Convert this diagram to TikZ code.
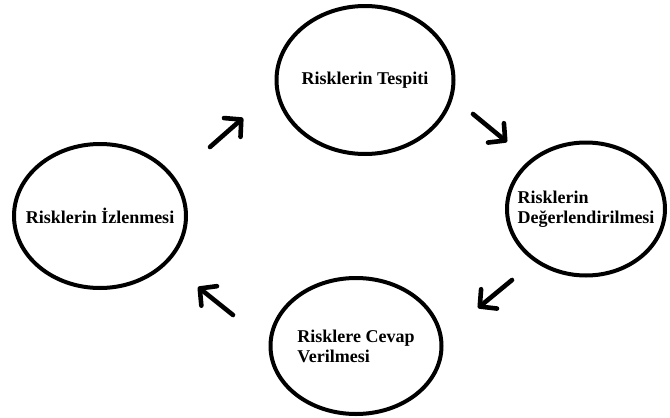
\documentclass[tikz,border=0pt]{standalone}
\usepackage{fontspec}
\setmainfont{Liberation Serif}
\usetikzlibrary{shapes.geometric,arrows.meta}
\begin{document}
\begin{tikzpicture}
    [x=1pt,y=-1pt,
    stage/.style={ellipse,draw=black,line width=4pt,inner sep=0pt},
    caption/.style={font=\bfseries\fontsize{18}{20}\selectfont,align=left,inner sep=0pt},
    turn/.style={line width=4.6pt,line cap=round,
        -{Straight Barb[length=12pt,width=25pt,line cap=round,line join=round]}}]

    \useasboundingbox (0,0) rectangle (670,418);

    \node[stage,minimum width=177pt,minimum height=148pt] (tespit) at (365,80) {};
    \node[stage,minimum width=158pt,minimum height=133pt] (deger) at (586,209) {};
    \node[stage,minimum width=171pt,minimum height=136pt] (cevap) at (356,346) {};
    \node[stage,minimum width=172pt,minimum height=144pt] (izle) at (100,216) {};

    \node[caption] (tespitT) at (tespit.center) {Risklerin Tespiti};
    \node[caption] (degerT) at (deger.center) {Risklerin\\Değerlendirilmesi};
    \node[caption] (cevapT) at (cevap.center) {Risklere Cevap\\Verilmesi};
    \node[caption] (izleT) at (izle.center) {Risklerin İzlenmesi};

    % short arrows between the stages
    \coordinate (a1s) at (210,147); \coordinate (a1e) at (243,118);
    \coordinate (a2s) at (473,114); \coordinate (a2e) at (507,142);
    \coordinate (a3s) at (512,280); \coordinate (a3e) at (478,308);
    \coordinate (a4s) at (233,315); \coordinate (a4e) at (198,287);
    \draw[turn] (a1s) -- (a1e);
    \draw[turn] (a2s) -- (a2e);
    \draw[turn] (a3s) -- (a3e);
    \draw[turn] (a4s) -- (a4e);
\end{tikzpicture}
\end{document}
